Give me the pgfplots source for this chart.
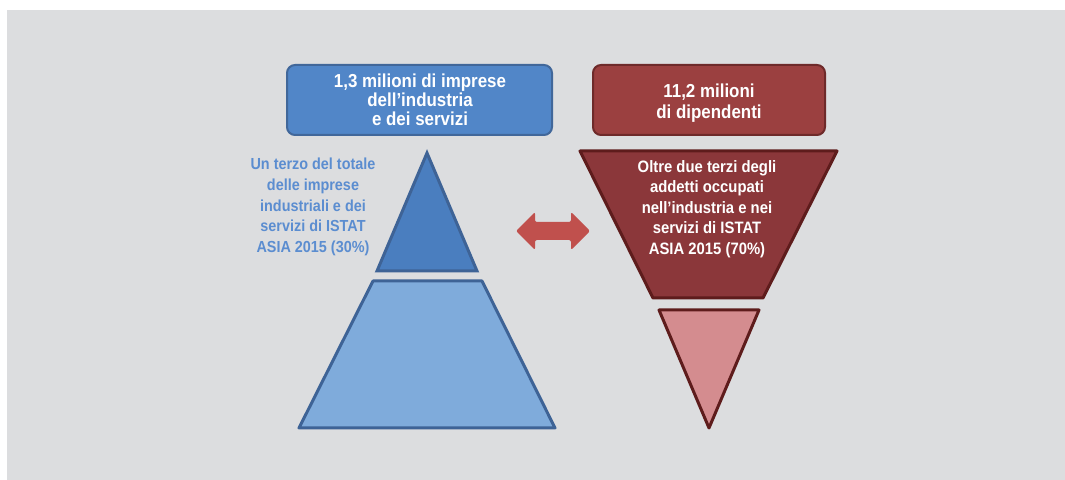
\documentclass[border=0pt]{standalone}
\usepackage{pgfplots}
\pgfplotsset{compat=1.18}
\usepackage{fontspec}
\setmainfont{Liberation Sans}[FakeStretch=0.9]
\definecolor{bg}{HTML}{DCDDDF}
\definecolor{bluebox}{HTML}{5186C8}
\definecolor{blueboxline}{HTML}{41679A}
\definecolor{bluetop}{HTML}{4A7EBF}
\definecolor{bluebot}{HTML}{7FABDB}
\definecolor{blueline}{HTML}{3E6396}
\definecolor{bluetext}{HTML}{5B8DD0}
\definecolor{redbox}{HTML}{9B4040}
\definecolor{redboxline}{HTML}{6E2A2A}
\definecolor{redtop}{HTML}{8B373A}
\definecolor{redline}{HTML}{5E1C1C}
\definecolor{redbot}{HTML}{D48C8F}
\definecolor{arrowred}{HTML}{C0504D}
\begin{document}
\begin{tikzpicture}
\begin{axis}[
    width=532.5pt, height=240pt, scale only axis,
    xmin=0, xmax=1065, ymin=0, ymax=480,
    y dir=reverse,
    axis lines=none,
    clip=false,
]
% page and panel background
\addplot[fill=white, draw=none] coordinates {(0,0) (1065,0) (1065,480) (0,480)} -- cycle;
\addplot[fill=bg, draw=none] coordinates {(7,10) (1065,10) (1065,480) (7,480)} -- cycle;

% header boxes
\addplot[fill=bluebox, draw=blueboxline, line width=1pt, rounded corners=4pt]
    coordinates {(287,65) (552,65) (552,135) (287,135)} -- cycle;
\addplot[fill=redbox, draw=redboxline, line width=1pt, rounded corners=4pt]
    coordinates {(593,65) (825,65) (825,135) (593,135)} -- cycle;

% left pyramid
\addplot[fill=bluetop, draw=blueline, line width=1.5pt, line join=miter]
    coordinates {(427,153) (477,271) (377,271)} -- cycle;
\addplot[fill=bluebot, draw=blueline, line width=1.5pt, line join=round]
    coordinates {(373,281) (482,281) (555,428) (299,428)} -- cycle;

% right funnel
\addplot[fill=redtop, draw=redline, line width=1.5pt, line join=round]
    coordinates {(580,151) (837,151) (763,298) (653,298)} -- cycle;
\addplot[fill=redbot, draw=redline, line width=1.5pt, line join=round]
    coordinates {(659,310) (759,310) (709,428)} -- cycle;

% double arrow
\addplot[fill=arrowred, draw=none, rounded corners=1pt]
    coordinates {(516,231) (535,212) (535,222) (571,222) (571,212) (590,231)
                 (571,250) (571,240) (535,240) (535,250)} -- cycle;

% texts
\node[align=center, text=white, font=\fontsize{9.4}{9.6}\selectfont\bfseries]
    at (axis cs:420,100) {1,3 milioni di imprese\\dell’industria\\e dei servizi};
\node[align=center, text=white, font=\fontsize{9.4}{10.2}\selectfont\bfseries]
    at (axis cs:709,103) {11,2 milioni\\di dipendenti};
\node[align=center, text=bluetext, font=\fontsize{8.0}{10.3}\selectfont\bfseries]
    at (axis cs:313,207) {Un terzo del totale\\delle imprese\\industriali e dei\\servizi di ISTAT\\ASIA 2015 (30\%)};
\node[align=center, text=white, font=\fontsize{8.25}{10.25}\selectfont\bfseries]
    at (axis cs:707,209) {Oltre due terzi degli\\addetti occupati\\nell’industria e nei\\servizi di ISTAT\\ASIA 2015 (70\%)};
\end{axis}
\end{tikzpicture}
\end{document}
